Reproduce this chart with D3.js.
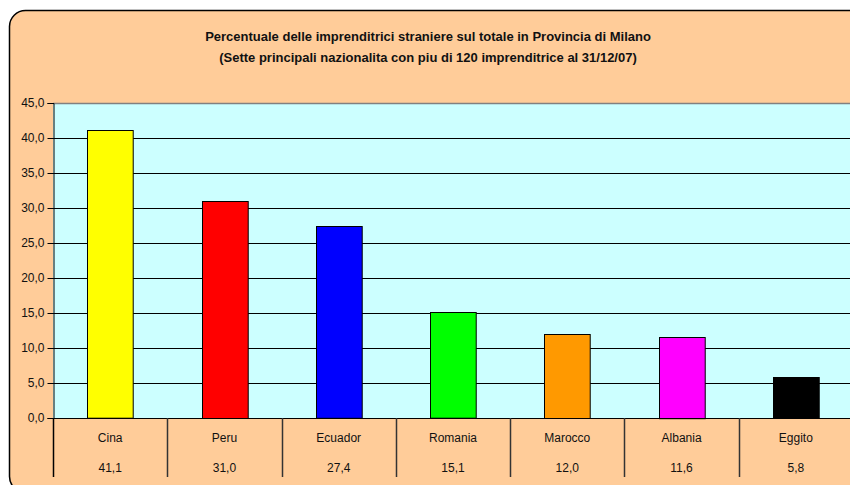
<!DOCTYPE html>
<html>
<head>
<meta charset="utf-8">
<script src="https://cdn.jsdelivr.net/npm/d3@7"></script>
<style>
  body { margin: 0; background: #fff; }
  svg { display: block; font-family: "Liberation Sans", Arial, sans-serif; }
</style>
</head>
<body>
<svg id="chart" width="850" height="485"></svg>
<script>
// Chart data
const countries = ['Cina', 'Peru', 'Ecuador', 'Romania', 'Marocco', 'Albania', 'Eggito'];
const percentages = [41.1, 31.0, 27.4, 15.1, 12.0, 11.6, 5.8];
const barColors = ['#ffff00', '#ff0000', '#0000ff', '#00ff00', '#ff9900', '#ff00ff', '#000000'];
const yTicks = [0, 5, 10, 15, 20, 25, 30, 35, 40, 45];
const titleLines = [
    'Percentuale delle imprenditrici straniere sul totale in Provincia di Milano',
    '(Sette principali nazionalita con piu di 120 imprenditrice al 31/12/07)'
];

const svg = d3.select('#chart');
const margin = { top: 103, left: 53 };
const plotRight = 853;
const plotBottom = 418;

const fmt = v => d3.format('.1f')(v).replace('.', ',');

// Outer chart background
svg.append('rect')
    .attr('x', 9.5).attr('y', 10.5)
    .attr('width', 900).attr('height', 482)
    .attr('rx', 16).attr('ry', 16)
    .attr('fill', '#ffcc99')
    .attr('stroke', '#000')
    .attr('stroke-width', 1.5);

// Title
svg.append('text')
    .attr('text-anchor', 'middle')
    .attr('font-size', 13)
    .attr('font-weight', 'bold')
    .attr('fill', '#111')
    .selectAll('tspan')
    .data(titleLines)
    .join('tspan')
    .attr('x', 428)
    .attr('y', (d, i) => 41 + i * 21)
    .text(d => d);

// Scales
const x = d3.scaleBand()
    .domain(countries)
    .range([margin.left, plotRight])
    .paddingInner(0.6)
    .paddingOuter(0.3);

const y = d3.scaleLinear()
    .domain([0, 45])
    .range([plotBottom, margin.top]);

// Plot area
svg.append('rect')
    .attr('x', margin.left).attr('y', margin.top)
    .attr('width', plotRight - margin.left)
    .attr('height', plotBottom - margin.top)
    .attr('fill', '#ccffff');

// Gridlines
svg.append('g')
    .selectAll('line')
    .data(yTicks.slice(1))
    .join('line')
    .attr('x1', margin.left).attr('x2', plotRight)
    .attr('y1', d => Math.round(y(d)) + 0.5)
    .attr('y2', d => Math.round(y(d)) + 0.5)
    .attr('stroke', d => d === 45 ? '#808080' : '#000')
    .attr('stroke-width', d => d === 45 ? 1.5 : 1);

// Bars
svg.append('g')
    .selectAll('rect')
    .data(countries)
    .join('rect')
    .attr('x', d => Math.round(x(d)) + 0.5)
    .attr('y', (d, i) => Math.round(y(percentages[i])) + 0.5)
    .attr('width', x.bandwidth())
    .attr('height', (d, i) => y(0) - y(percentages[i]))
    .attr('fill', (d, i) => barColors[i])
    .attr('stroke', '#000')
    .attr('stroke-width', 1);

// Y axis
const yAxis = svg.append('g')
    .attr('transform', `translate(${margin.left + 0.5},0)`)
    .call(d3.axisLeft(y).tickValues(yTicks).tickFormat(fmt).tickSize(6).tickPadding(3));
yAxis.select('.domain').attr('stroke', '#000');
yAxis.selectAll('.tick line').attr('stroke', '#000');
yAxis.selectAll('.tick text')
    .attr('font-family', '"Liberation Sans", Arial, sans-serif')
    .attr('font-size', 12)
    .attr('fill', '#111');

// Category axis baseline
svg.append('line')
    .attr('x1', margin.left).attr('x2', plotRight)
    .attr('y1', plotBottom + 0.5).attr('y2', plotBottom + 0.5)
    .attr('stroke', '#000');

// Data table dividers
const step = x.step();
svg.append('g')
    .selectAll('line')
    .data(countries)
    .join('line')
    .attr('x1', d => Math.round(x(d) + x.bandwidth() / 2 - step / 2) + 0.5)
    .attr('x2', d => Math.round(x(d) + x.bandwidth() / 2 - step / 2) + 0.5)
    .attr('y1', plotBottom).attr('y2', 477)
    .attr('stroke', (d, i) => i === 0 ? '#000' : '#333')
    .attr('stroke-width', 1.5);

// Category labels and values
const labels = svg.append('g')
    .attr('font-size', 12)
    .attr('fill', '#111')
    .attr('text-anchor', 'middle');

labels.selectAll('.cat')
    .data(countries)
    .join('text')
    .attr('class', 'cat')
    .attr('x', d => x(d) + x.bandwidth() / 2)
    .attr('y', 442)
    .text(d => d);

labels.selectAll('.val')
    .data(countries)
    .join('text')
    .attr('class', 'val')
    .attr('x', d => x(d) + x.bandwidth() / 2)
    .attr('y', 472)
    .text((d, i) => fmt(percentages[i]));
</script>
</body>
</html>
